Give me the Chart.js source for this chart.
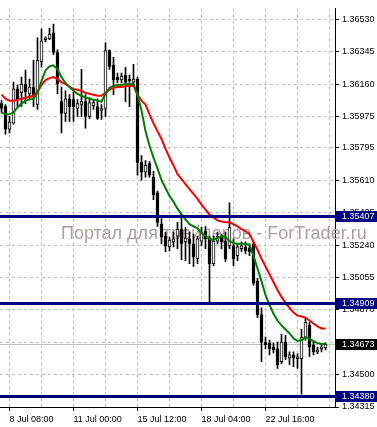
<!DOCTYPE html>
<html>
<head>
<meta charset="utf-8">
<script src="https://cdn.jsdelivr.net/npm/chart.js@4/dist/chart.umd.min.js"></script>
<style>
  html, body { margin: 0; padding: 0; background: #fff; }
  canvas { display: block; }
</style>
</head>
<body>
<canvas id="chart" width="377" height="427"></canvas>
<script>
// H4 bars, index 0..81
const open = [
  1.36048, 1.36031, 1.35902, 1.35936, 1.36132, 1.36110, 1.36160, 1.36104, 1.36143, 1.36043,
  1.36289, 1.36413, 1.36418, 1.36452, 1.36340, 1.36059, 1.35992, 1.36076, 1.36071, 1.36020,
  1.36043, 1.36059, 1.35975, 1.36037, 1.36031, 1.36009, 1.36020, 1.36351, 1.36267, 1.36200,
  1.36183, 1.36211, 1.36188, 1.36171, 1.36188, 1.35712, 1.35656, 1.35706, 1.35628, 1.35538,
  1.35359, 1.35291, 1.35230, 1.35258, 1.35291, 1.35331, 1.35258, 1.35275, 1.35247, 1.35162,
  1.35263, 1.35319, 1.35275, 1.35134, 1.35263, 1.35286, 1.35263, 1.35235, 1.35235, 1.35179,
  1.35219, 1.35230, 1.35224, 1.35247, 1.35034, 1.34843, 1.34686, 1.34680, 1.34658, 1.34647,
  1.34574, 1.34686, 1.34596, 1.34613, 1.34591, 1.34591, 1.34714, 1.34781, 1.34669, 1.34630,
  1.34647, 1.34652
];
const high = [
  1.36065, 1.36043, 1.35975, 1.36171, 1.36155, 1.36200, 1.36239, 1.36188, 1.36295, 1.36424,
  1.36474, 1.36429, 1.36480, 1.36502, 1.36356, 1.36143, 1.36121, 1.36099, 1.36115, 1.36071,
  1.36244, 1.36099, 1.36082, 1.36071, 1.36076, 1.36043, 1.36396, 1.36356, 1.36312, 1.36222,
  1.36222, 1.36256, 1.36211, 1.36272, 1.36200, 1.35751, 1.35723, 1.35717, 1.35661, 1.35549,
  1.35392, 1.35314, 1.35286, 1.35314, 1.35370, 1.35404, 1.35342, 1.35314, 1.35303, 1.35291,
  1.35342, 1.35347, 1.35291, 1.35291, 1.35314, 1.35303, 1.35314, 1.35482, 1.35275, 1.35247,
  1.35258, 1.35258, 1.35247, 1.35258, 1.35050, 1.34882, 1.34714, 1.34697, 1.34680, 1.34686,
  1.34731, 1.34725, 1.34630, 1.34630, 1.34619, 1.34759, 1.34826, 1.34798, 1.34686, 1.34658,
  1.34675, 1.34680
];
const low = [
  1.35998, 1.35874, 1.35880, 1.35930, 1.36031, 1.36031, 1.36048, 1.36076, 1.36031, 1.36015,
  1.36256, 1.36401, 1.36413, 1.36328, 1.36104, 1.35880, 1.35947, 1.35947, 1.35947, 1.35975,
  1.35975, 1.35908, 1.35964, 1.36015, 1.35958, 1.35958, 1.35975, 1.36244, 1.36099, 1.36166,
  1.36166, 1.36059, 1.36031, 1.36160, 1.35639, 1.35611, 1.35628, 1.35628, 1.35499, 1.35347,
  1.35247, 1.35202, 1.35207, 1.35230, 1.35219, 1.35157, 1.35151, 1.35134, 1.35118, 1.35134,
  1.35235, 1.35219, 1.34910, 1.35123, 1.35247, 1.35219, 1.35146, 1.35219, 1.35123, 1.35151,
  1.35202, 1.35190, 1.35179, 1.35011, 1.34826, 1.34574, 1.34647, 1.34613, 1.34624, 1.34535,
  1.34563, 1.34585, 1.34557, 1.34546, 1.34535, 1.34389, 1.34697, 1.34602, 1.34613, 1.34619,
  1.34630, 1.34641
];
const close = [
  1.36020, 1.35902, 1.35942, 1.36132, 1.36076, 1.36160, 1.36115, 1.36143, 1.36087, 1.36295,
  1.36407, 1.36424, 1.36446, 1.36340, 1.36160, 1.35992, 1.36076, 1.36031, 1.36031, 1.36048,
  1.36059, 1.35975, 1.36054, 1.36054, 1.35964, 1.36020, 1.36351, 1.36261, 1.36183, 1.36183,
  1.36205, 1.36171, 1.36177, 1.36188, 1.35712, 1.35656, 1.35695, 1.35639, 1.35527, 1.35370,
  1.35286, 1.35235, 1.35269, 1.35275, 1.35331, 1.35247, 1.35280, 1.35247, 1.35174, 1.35275,
  1.35314, 1.35275, 1.35134, 1.35263, 1.35291, 1.35258, 1.35162, 1.35342, 1.35162, 1.35230,
  1.35235, 1.35207, 1.35202, 1.35022, 1.34843, 1.34686, 1.34669, 1.34647, 1.34641, 1.34557,
  1.34686, 1.34602, 1.34613, 1.34596, 1.34602, 1.34714, 1.34798, 1.34658, 1.34630, 1.34641,
  1.34658, 1.34673
];

// moving averages
const maSlow = [
  1.36099, 1.36076, 1.36065, 1.36065, 1.36071, 1.36076, 1.36082, 1.36087, 1.36093, 1.36115,
  1.36155, 1.36183, 1.36194, 1.36200, 1.36188, 1.36171, 1.36160, 1.36143, 1.36132, 1.36127,
  1.36121, 1.36110, 1.36104, 1.36099, 1.36093, 1.36093, 1.36110, 1.36127, 1.36138, 1.36143,
  1.36143, 1.36149, 1.36149, 1.36149, 1.36099, 1.36065, 1.36043, 1.35987, 1.35936, 1.35891,
  1.35846, 1.35790, 1.35740, 1.35695, 1.35645, 1.35617, 1.35588, 1.35560, 1.35532, 1.35504,
  1.35471, 1.35443, 1.35415, 1.35398, 1.35381, 1.35375, 1.35370, 1.35370, 1.35359, 1.35347,
  1.35331, 1.35319, 1.35303, 1.35258, 1.35213, 1.35162, 1.35118, 1.35073, 1.35028, 1.34983,
  1.34944, 1.34910, 1.34882, 1.34854, 1.34837, 1.34832, 1.34826, 1.34809, 1.34792, 1.34776,
  1.34764, 1.34764
];
const maFast = [
  1.35998, 1.35987, 1.35987, 1.35998, 1.36026, 1.36048, 1.36065, 1.36071, 1.36076, 1.36110,
  1.36177, 1.36239, 1.36261, 1.36267, 1.36244, 1.36200, 1.36166, 1.36143, 1.36121, 1.36104,
  1.36093, 1.36082, 1.36076, 1.36071, 1.36065, 1.36059, 1.36104, 1.36138, 1.36149, 1.36155,
  1.36155, 1.36160, 1.36160, 1.36160, 1.36099, 1.36009, 1.35891, 1.35807, 1.35740, 1.35678,
  1.35611, 1.35566, 1.35521, 1.35488, 1.35448, 1.35415, 1.35387, 1.35359, 1.35347, 1.35336,
  1.35308, 1.35291, 1.35275, 1.35269, 1.35280, 1.35291, 1.35286, 1.35263, 1.35252, 1.35247,
  1.35247, 1.35247, 1.35241, 1.35179, 1.35106, 1.35034, 1.34955, 1.34899, 1.34848, 1.34809,
  1.34781, 1.34759, 1.34736, 1.34708, 1.34692, 1.34697, 1.34714, 1.34703, 1.34692, 1.34680,
  1.34675, 1.34675
];

const levels = [1.35407, 1.34909, 1.34380];
const lastPrice = 1.34673;

const yTickValues = [
  1.36530, 1.36345, 1.36160, 1.35975, 1.35795, 1.35610, 1.35425,
  1.35240, 1.35055, 1.34870, 1.34685, 1.34500, 1.34315
];
const xTickBars = [2, 10, 18, 26, 34, 42, 50, 58, 66, 74, 82];
const xTickLabels = ["8 Jul 08:00", "", "11 Jul 00:00", "", "15 Jul 12:00", "",
  "18 Jul 04:00", "", "22 Jul 16:00", "", ""];

const watermark = "Портал для трейдеров - ForTrader.ru";

const FONT = '"Liberation Sans", Arial, sans-serif';
Chart.defaults.font.family = FONT;
Chart.defaults.font.size = 9;
Chart.defaults.color = "#000";

const wicks = low.map((l, i) => ({ x: i, y: [l, high[i]] }));
const bodies = open.map((o, i) => ({ x: i, y: [o, close[i]] }));
const slowPts = maSlow.map((v, i) => ({ x: i, y: v }));
const fastPts = maFast.map((v, i) => ({ x: i, y: v }));

const overlay = {
  id: "overlay",
  beforeDatasetsDraw(chart) {
    const { ctx, chartArea: a, scales: { y } } = chart;
    ctx.save();
    // last price line
    const py = Math.round(y.getPixelForValue(lastPrice)) + 0.5;
    ctx.strokeStyle = "#c0c0c0";
    ctx.lineWidth = 1;
    ctx.beginPath();
    ctx.moveTo(a.left, py);
    ctx.lineTo(a.right, py);
    ctx.stroke();
    // watermark
    ctx.font = "18px " + FONT;
    ctx.fillStyle = "#ab9f9f";
    ctx.textBaseline = "alphabetic";
    ctx.fillText(watermark, a.left + 61, a.top + 231);
    ctx.restore();
  },
  afterDraw(chart) {
    const { ctx, chartArea: a, scales: { y } } = chart;
    const W = chart.width;
    ctx.save();
    ctx.font = "9px " + FONT;
    ctx.textBaseline = "middle";
    levels.forEach(v => {
      const py = Math.round(y.getPixelForValue(v));
      ctx.fillStyle = "#000080";
      ctx.fillRect(a.left, py - 1, a.right - a.left, 3);
      ctx.fillRect(a.right + 1, py - 5, W - a.right - 1, 11);
      ctx.fillStyle = "#fff";
      ctx.fillText(v.toFixed(5), a.right + 7, py + 0.5);
    });
    const py = Math.round(y.getPixelForValue(lastPrice));
    ctx.fillStyle = "#000";
    ctx.fillRect(a.right + 1, py - 5, W - a.right - 1, 11);
    ctx.fillStyle = "#fff";
    ctx.fillText(lastPrice.toFixed(5), a.right + 7, py + 0.5);
    ctx.restore();
  }
};

new Chart(document.getElementById("chart"), {
  type: "bar",
  data: {
    datasets: [
      {
        type: "line",
        data: fastPts,
        borderColor: "#008000",
        borderWidth: 2,
        pointRadius: 0,
        tension: 0,
        order: 0
      },
      {
        type: "line",
        data: slowPts,
        borderColor: "#ff0000",
        borderWidth: 2,
        pointRadius: 0,
        tension: 0,
        order: 1
      },
      {
        data: bodies,
        grouped: false,
        barThickness: 3,
        minBarLength: 1,
        backgroundColor: c => close[c.dataIndex] >= open[c.dataIndex] ? "#fff" : "#000",
        borderColor: "#000",
        borderWidth: 1,
        borderSkipped: false,
        order: 2
      },
      {
        data: wicks,
        grouped: false,
        barThickness: 1,
        backgroundColor: "#000",
        borderWidth: 0,
        order: 3
      }
    ]
  },
  options: {
    responsive: false,
    devicePixelRatio: 1,
    animation: false,
    layout: { padding: 0, autoPadding: false },
    plugins: {
      legend: { display: false },
      tooltip: { enabled: false }
    },
    scales: {
      x: {
        type: "linear",
        offset: false,
        min: -0.375,
        max: 83.375,
        afterBuildTicks: s => { s.ticks = xTickBars.map(v => ({ value: v })); },
        afterFit: s => { s.height = 20; },
        ticks: {
          autoSkip: false,
          maxRotation: 0,
          align: "start",
          padding: 3,
          callback: (v, i) => xTickLabels[i]
        },
        grid: {
          offset: false,
          color: "#c0c0c0",
          tickLength: 4,
          tickColor: c => xTickLabels[c.index] ? "#000" : "rgba(0,0,0,0)"
        },
        border: { color: "#000", width: 1, dash: [3, 3] }
      },
      y: {
        position: "right",
        min: 1.34315,
        max: 1.36592,
        afterBuildTicks: s => { s.ticks = yTickValues.map(v => ({ value: v })); },
        afterFit: s => { s.width = 42; },
        ticks: {
          autoSkip: false,
          padding: 3,
          callback: v => v.toFixed(5)
        },
        grid: {
          color: "#c0c0c0",
          tickLength: 4,
          tickColor: "#000"
        },
        border: { color: "#000", width: 1, dash: [3, 3] }
      }
    }
  },
  plugins: [overlay]
});
</script>
</body>
</html>
